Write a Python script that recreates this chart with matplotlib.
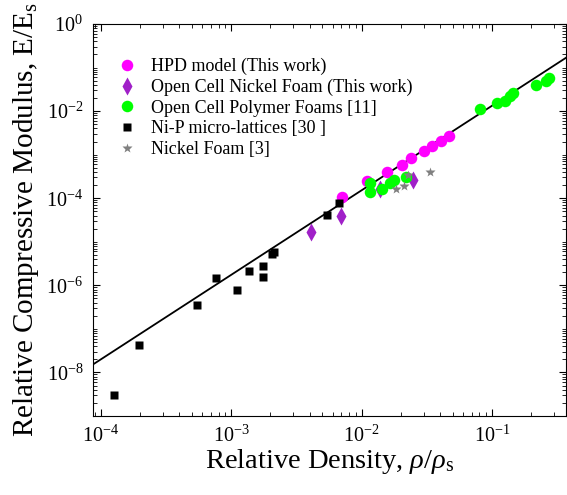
import numpy as np
import matplotlib
matplotlib.use('Agg')
import matplotlib.pyplot as plt
from matplotlib.ticker import LogLocator, FixedLocator, NullFormatter

plt.rcParams['font.family'] = 'Liberation Serif'
plt.rcParams['mathtext.fontset'] = 'custom'
plt.rcParams['mathtext.rm'] = 'Liberation Serif'
plt.rcParams['mathtext.it'] = 'Liberation Serif:italic'

# data (log10 values)
hpd_x = [-2.153, -1.954, -1.808, -1.693, -1.617, -1.523, -1.456, -1.392, -1.331]
hpd_y = [-3.98, -3.60, -3.39, -3.23, -3.08, -2.91, -2.79, -2.68, -2.58]

ni_foam_x = [-2.386, -2.159, -1.860, -1.604]
ni_foam_y = [-4.78, -4.40, -3.78, -3.58]

polymer_x = [-1.936, -1.936, -1.842, -1.783, -1.750, -1.655,
             -1.094, -0.961, -0.902, -0.864, -0.838, -0.664, -0.587, -0.564]
polymer_y = [-3.64, -3.85, -3.78, -3.65, -3.59, -3.52,
             -1.95, -1.82, -1.76, -1.65, -1.59, -1.40, -1.32, -1.25]

nip_x = [-3.903, -3.704, -3.264, -3.117, -2.956, -2.861, -2.756, -2.754,
         -2.690, -2.675, -2.268, -2.171]
nip_y = [-8.52, -7.38, -6.46, -5.83, -6.11, -5.66, -5.55, -5.82,
         -5.29, -5.23, -4.39, -4.10]

nickel_x = [-1.737, -1.674, -1.643, -1.477]
nickel_y = [-3.78, -3.72, -3.46, -3.40]

# power law fit E/Es = C (rho/rhos)^n
fit_C = 1.15
fit_n = 1.94

fig = plt.figure(figsize=(5.67, 4.95), dpi=100)
ax = fig.add_axes([0.164, 0.1596, 0.834, 0.7919])

xl = (8.7e-5, 0.37)
xf = np.logspace(np.log10(xl[0]), np.log10(xl[1]), 50)
ax.plot(xf, fit_C * xf ** fit_n, color='black', lw=1.3, zorder=1)

p = lambda v: 10.0 ** np.array(v)
ax.plot(p(hpd_x), p(hpd_y), 'o', color='#FF00FF', ms=8.3, mec='none',
        label='HPD model (This work)', zorder=2)
ax.plot(p(ni_foam_x), p(ni_foam_y), 'd', color='#A020C8', ms=9, mec='none',
        label='Open Cell Nickel Foam (This work)', zorder=3)
ax.plot(p(polymer_x), p(polymer_y), 'o', color='#00FF00', ms=8.3, mec='none',
        label='Open Cell Polymer Foams [11]', zorder=3)
ax.plot(p(nip_x), p(nip_y), 's', color='black', ms=5.8, mec='none',
        label='Ni-P micro-lattices [30 ]', zorder=4)
ax.plot(p(nickel_x), p(nickel_y), '*', color='#808080', ms=7, mec='none',
        label='Nickel Foam [3]', zorder=4)

ax.set_xscale('log')
ax.set_yscale('log')
ax.set_xlim(*xl)
ax.set_ylim(1e-9, 1)

ax.xaxis.set_major_locator(FixedLocator([1e-4, 1e-3, 1e-2, 1e-1]))
ax.set_xticklabels([r'$\mathregular{10^{-4}}$', r'$\mathregular{10^{-3}}$',
                    r'$\mathregular{10^{-2}}$', r'$\mathregular{10^{-1}}$'])
ax.xaxis.set_minor_locator(LogLocator(base=10, subs=np.arange(2, 10), numticks=20))
ax.xaxis.set_minor_formatter(NullFormatter())

ax.yaxis.set_major_locator(FixedLocator([1e-8, 1e-6, 1e-4, 1e-2, 1]))
ax.set_yticklabels([r'$\mathregular{10^{-8}}$', r'$\mathregular{10^{-6}}$',
                    r'$\mathregular{10^{-4}}$', r'$\mathregular{10^{-2}}$',
                    r'$\mathregular{10^{0}}$'])
ax.yaxis.set_minor_locator(LogLocator(base=10, subs=np.arange(1, 10), numticks=20))
ax.yaxis.set_minor_formatter(NullFormatter())

ax.tick_params(which='both', direction='in', top=True, right=True, labelsize=14.5)
ax.tick_params(axis='x', pad=7)
ax.tick_params(axis='y', pad=7)
ax.tick_params(which='major', length=5, width=0.8)
ax.tick_params(which='minor', length=3, width=0.6)

ax.set_xlabel(r'Relative Density, $\rho/\rho_\mathregular{s}$', fontsize=20.5, labelpad=0)
ax.set_ylabel(r'Relative Compressive Modulus, E/E$_\mathregular{s}$', fontsize=21, labelpad=4)

ax.legend(loc='upper left', bbox_to_anchor=(0.0, 0.955), frameon=False,
          fontsize=13, handletextpad=0.3, labelspacing=0.2, borderaxespad=0.5)

fig.savefig('out.png', dpi=100)
